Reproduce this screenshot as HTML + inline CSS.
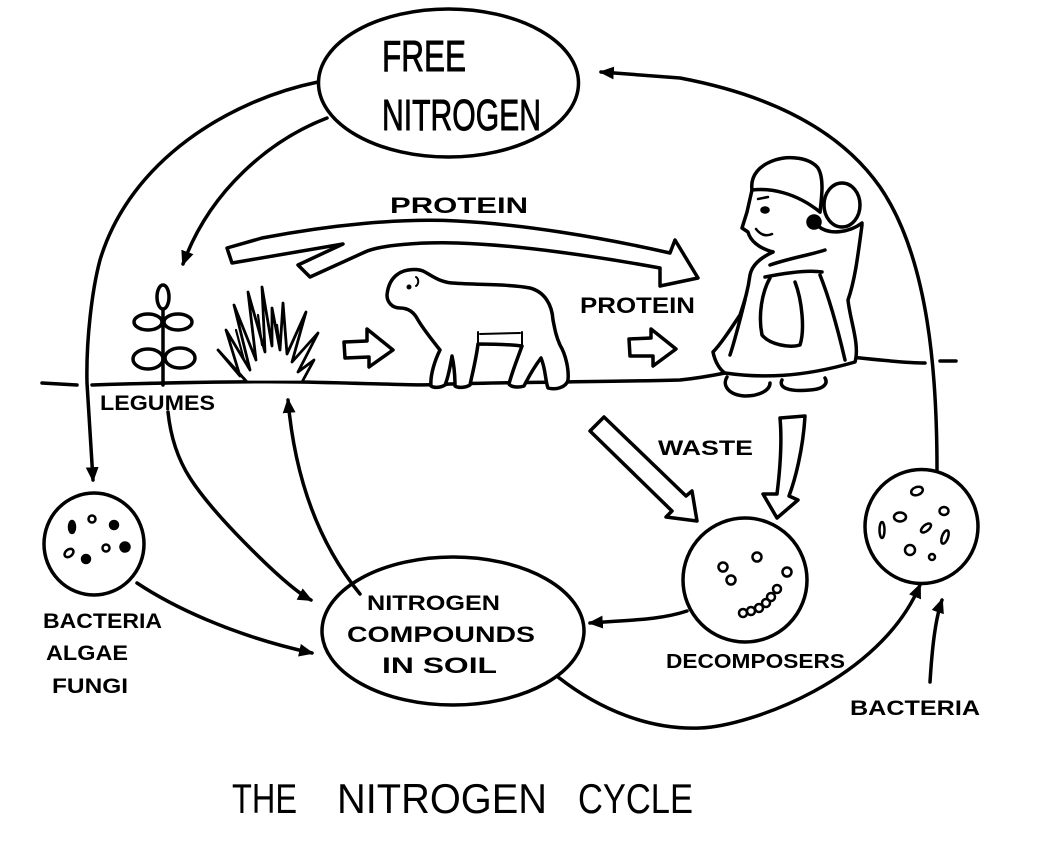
<!DOCTYPE html>
<html>
<head>
<meta charset="utf-8">
<style>
html,body{margin:0;padding:0;background:#fff;}
svg{display:block;}
text{font-family:"Liberation Sans",sans-serif;fill:#000;}
.b{font-weight:bold;}
.big{stroke:#000;stroke-width:0.9;}
</style>
</head>
<body>
<svg width="1056" height="848" viewBox="0 0 1056 848" xmlns="http://www.w3.org/2000/svg">
<defs>
<marker id="ah" viewBox="0 0 14 12" refX="12" refY="6" markerWidth="15" markerHeight="13" markerUnits="userSpaceOnUse" orient="auto">
<path d="M0,0 L14,6 L0,12 z" fill="#000"/>
</marker>
</defs>
<rect width="1056" height="848" fill="#fff"/>
<g fill="none" stroke="#000" stroke-width="3.5" stroke-linecap="round" stroke-linejoin="round">

<!-- Free nitrogen ellipse -->
<ellipse cx="448.5" cy="83" rx="130" ry="74"/>

<!-- outer arc from free nitrogen down to left bacteria -->
<path d="M318,82 C230,100 130,160 100,260 C92,290 86,340 87,383 L93,480" marker-end="url(#ah)"/>
<!-- inner arc to legumes -->
<path d="M327,118 C270,140 210,190 183,264" marker-end="url(#ah)"/>

<!-- right arc from right bacteria to free nitrogen -->
<path d="M937,470 C937,380 930,260 880,187 C840,130 770,95 680,78 L601,72" marker-end="url(#ah)"/>

<!-- ground line -->
<path d="M42,383 L77,385"/>
<path d="M92,385 C150,383 250,381 300,382 C400,384 420,386 450,384 C520,382 600,382 680,380 C700,378 715,375 725,373"/>
<path d="M850,357 C880,360 905,363 925,363"/>
<path d="M940,361 L956,361"/>

<!-- legume plant -->
<path d="M163,309 L163,385"/>
<ellipse cx="163" cy="297" rx="6" ry="12"/>
<ellipse cx="148" cy="322" rx="14" ry="8"/>
<ellipse cx="178" cy="322" rx="14" ry="8"/>
<ellipse cx="148" cy="359" rx="15" ry="10"/>
<ellipse cx="180" cy="358" rx="15" ry="10"/>

<!-- grass tuft -->
<path d="M218,350 L240,376 L226,330 L250,370 L234,305 L256,360 L248,292 L265,352 L262,287 L272,346 L272,308 L280,350 L283,303 L287,354 L306,312 L292,362 L318,333 L298,372 L314,360 L302,382 L247,382 Z" fill="#fff" stroke-width="2.8"/>
<path d="M236,330 L244,360 M258,315 L262,345 M277,325 L280,348" stroke-width="2.2"/>

<!-- hollow arrow grass -> sheep -->
<path d="M344,342 L367,341 L367,329 L393,350 L369,367 L369,357 L345,358 Z" fill="#fff"/>

<!-- sheep -->
<path d="M387,295 C388,285 392,278 398,274 C405,269 418,268 425,272 C432,276 440,282 452,283 C480,285 510,284 530,288 C545,292 552,305 553,320 C555,330 556,336 560,345 C566,355 569,370 568,380 C566,388 555,390 548,388 C545,380 546,370 541,358 C535,366 528,378 524,386 C518,388 511,387 509,384 C512,372 517,360 522,346 C505,344 490,344 478,344 C476,360 472,375 470,385 C465,388 458,388 455,386 C455,375 454,365 452,356 C450,368 448,378 445,385 C440,388 434,388 431,386 C430,375 435,360 440,350 C432,340 424,330 418,320 C414,312 408,308 400,308 C392,308 387,302 387,295 Z" fill="#fff"/>
<circle cx="409" cy="287" r="2.5" fill="#000" stroke="none"/>
<path d="M416,277 C419,279 419,284 416,286" stroke-width="2"/>
<path d="M478,344 L478,332 M480,334 L520,333 M522,346 L522,332" stroke-width="2"/>

<!-- big PROTEIN hollow arrow -->
<path d="M227,248 L262,238 C330,225 400,218 457,221 C520,224 600,237 670,253 L675,240 L698,278 L660,286 L660,268 C600,257 520,245 457,243 C420,242 380,245 365,252 L310,277 L298,265 L343,244 L232,263 Z" fill="#fff"/>

<!-- hollow arrow sheep -> woman -->
<path d="M629,339 L651,338 L651,329 L676,349 L653,366 L653,356 L630,356 Z" fill="#fff"/>

<!-- woman -->
<path d="M773,252 C760,258 752,265 750,275 C748,290 745,300 740,315 C730,330 720,345 713,352 C715,362 720,370 725,373 C760,378 800,378 855,362 C860,345 850,320 848,300 C855,280 858,255 862,225" fill="#fff"/>
<path d="M752,190 C750,175 760,165 775,160 C790,155 810,158 818,168 C824,178 822,195 820,212"/>
<path d="M752,190 C770,188 795,192 820,212"/>
<path d="M752,190 L747,212 L742,228 L748,232 C750,240 758,248 773,252"/>
<ellipse cx="765" cy="210" rx="3" ry="2" fill="#000"/>
<path d="M758,199 L768,197" stroke-width="2.5"/>
<path d="M756,229 Q763,238 772,234" stroke-width="2.5"/>
<ellipse cx="814" cy="222" rx="6" ry="6" fill="#000"/>
<ellipse cx="842" cy="205" rx="18" ry="22" fill="#fff"/>
<path d="M818,226 C830,236 850,232 862,223"/>
<path d="M770,265 C790,258 810,255 825,250"/>
<path d="M765,277 C790,272 810,270 822,272"/>
<path d="M770,278 C762,292 758,315 762,335 C770,345 790,348 800,345 C805,330 802,300 795,282"/>
<path d="M745,300 C740,320 735,340 730,355"/>
<path d="M820,275 C830,300 838,330 845,360"/>
<path d="M727,377 C722,385 728,395 745,396 C760,396 770,390 770,383"/>
<path d="M782,380 C778,388 790,392 810,390 C825,389 828,383 825,378"/>

<!-- WASTE hollow arrows -->
<path d="M604,417 L686,496 L692,491 L697,521 L666,517 L672,511 L590,431 Z" fill="#fff"/>
<path d="M780,418 L805,416 C803,450 795,480 789,496 L798,500 L777,518 L763,494 L777,494 C780,470 782,440 780,418 Z" fill="#fff"/>

<!-- left bacteria circle -->
<ellipse cx="94" cy="544" rx="50" ry="51"/>
<!-- arrow from left circle to compounds -->
<path d="M137,583 C170,605 230,635 312,653" marker-end="url(#ah)"/>
<!-- legumes arrow -->
<path d="M168,412 Q172,450 190,478 T250,548 T311,600" marker-end="url(#ah)"/>
<!-- compounds to plants -->
<path d="M360,594 C320,545 295,480 288,400" marker-end="url(#ah)"/>

<!-- compounds ellipse -->
<ellipse cx="453" cy="631" rx="131" ry="74"/>

<!-- decomposers circle -->
<circle cx="745" cy="580" r="62"/>
<path d="M687,611 C660,620 630,620 590,623" marker-end="url(#ah)"/>

<!-- compounds to right bacteria -->
<path d="M558,677 C600,710 650,730 700,728 C750,726 880,680 920,585" marker-end="url(#ah)"/>
<!-- bacteria label arrow -->
<path d="M930,682 C932,650 935,620 942,600" marker-end="url(#ah)"/>

<!-- right bacteria circle -->
<ellipse cx="921.5" cy="526.5" rx="56.5" ry="57"/>

</g>

<!-- dots left circle -->
<g fill="#000" stroke="#000" stroke-width="2.5">
<ellipse cx="72" cy="527" rx="3" ry="6"/>
<circle cx="92" cy="519" r="3.5" fill="none"/>
<circle cx="114" cy="525" r="4"/>
<ellipse cx="69" cy="553" rx="5" ry="3.5" transform="rotate(-40 69 553)" fill="none"/>
<circle cx="86" cy="559" r="4"/>
<circle cx="106" cy="548" r="3.5" fill="none"/>
<circle cx="125" cy="547" r="4.5"/>
</g>
<!-- dots decomposers -->
<g fill="none" stroke="#000" stroke-width="2.5">
<circle cx="723" cy="567" r="4.5"/>
<circle cx="731" cy="580" r="4.5"/>
<circle cx="757" cy="557" r="4.5"/>
<circle cx="787" cy="572" r="4.5"/>
<circle cx="743" cy="613" r="4"/>
<circle cx="751" cy="611" r="4"/>
<circle cx="759" cy="608" r="4"/>
<circle cx="766" cy="603" r="4"/>
<circle cx="771" cy="597" r="4"/>
<circle cx="777" cy="589" r="4"/>
</g>
<!-- dots right circle -->
<g fill="none" stroke="#000" stroke-width="2.5">
<ellipse cx="917" cy="491" rx="6" ry="4" transform="rotate(-20 917 491)"/>
<ellipse cx="900" cy="517" rx="6" ry="4.5"/>
<ellipse cx="944" cy="511" rx="4.5" ry="4"/>
<ellipse cx="882" cy="530" rx="2.5" ry="8"/>
<ellipse cx="926" cy="528" rx="6" ry="3" transform="rotate(-40 926 528)"/>
<ellipse cx="945" cy="537" rx="3" ry="7" transform="rotate(20 945 537)"/>
<ellipse cx="910" cy="550" rx="5" ry="5"/>
<circle cx="932" cy="557" r="3"/>
</g>

<!-- text -->
<text class="big" x="382" y="71" font-size="44" textLength="84" lengthAdjust="spacingAndGlyphs">FREE</text>
<text class="big" x="382" y="130" font-size="44" textLength="159" lengthAdjust="spacingAndGlyphs">NITROGEN</text>

<text class="b" x="390" y="213" font-size="22" textLength="138" lengthAdjust="spacingAndGlyphs">PROTEIN</text>
<text class="b" x="580" y="313" font-size="22" textLength="115" lengthAdjust="spacingAndGlyphs">PROTEIN</text>
<text class="b" x="100" y="410" font-size="21" textLength="115" lengthAdjust="spacingAndGlyphs">LEGUMES</text>
<text class="b" x="658" y="455" font-size="21" textLength="95" lengthAdjust="spacingAndGlyphs">WASTE</text>

<text class="b" x="43" y="628" font-size="21" textLength="119" lengthAdjust="spacingAndGlyphs">BACTERIA</text>
<text class="b" x="46" y="660" font-size="21" textLength="82" lengthAdjust="spacingAndGlyphs">ALGAE</text>
<text class="b" x="52" y="693" font-size="21" textLength="76" lengthAdjust="spacingAndGlyphs">FUNGI</text>

<text class="b" x="367" y="610" font-size="21" textLength="133" lengthAdjust="spacingAndGlyphs">NITROGEN</text>
<text class="b" x="347" y="642" font-size="22" textLength="188" lengthAdjust="spacingAndGlyphs">COMPOUNDS</text>
<text class="b" x="382" y="673" font-size="22" textLength="115" lengthAdjust="spacingAndGlyphs">IN SOIL</text>

<text class="b" x="666" y="668" font-size="20" textLength="179" lengthAdjust="spacingAndGlyphs">DECOMPOSERS</text>
<text class="b" x="850" y="715" font-size="21" textLength="130" lengthAdjust="spacingAndGlyphs">BACTERIA</text>

<text x="232" y="813" font-size="42" textLength="65" lengthAdjust="spacingAndGlyphs">THE</text>
<text x="337" y="813" font-size="42" textLength="210" lengthAdjust="spacingAndGlyphs">NITROGEN</text>
<text x="578" y="813" font-size="42" textLength="115" lengthAdjust="spacingAndGlyphs">CYCLE</text>
</svg>
</body>
</html>
